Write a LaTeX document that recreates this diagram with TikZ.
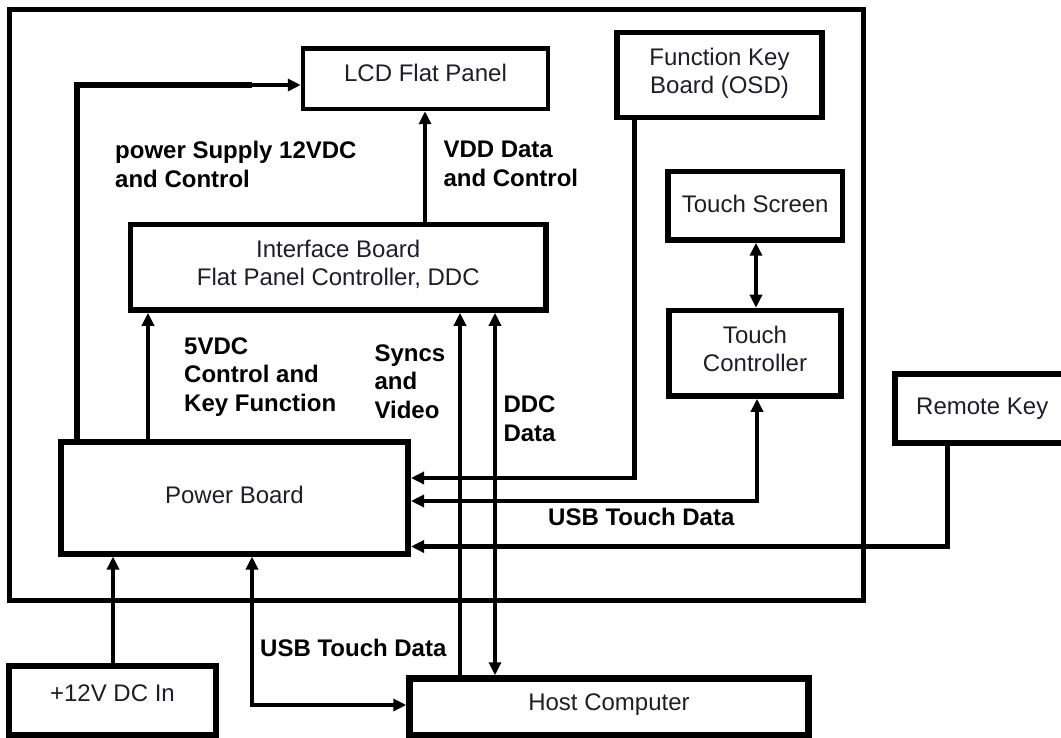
\documentclass[tikz,border=0pt]{standalone}
\usepackage{fontspec}
\setmainfont{Liberation Sans}
\usetikzlibrary{arrows.meta}
\newcommand{\lowr}[1]{\rule[-#1pt]{0pt}{#1pt}}
\definecolor{txt}{RGB}{30,30,40}
\begin{document}
\begin{tikzpicture}[x=1pt,y=-1pt,
  blk/.style={draw, line width=5.5pt, inner sep=0pt, text=txt,
    font=\fontsize{24pt}{28pt}\selectfont, align=center},
  lbl/.style={inner sep=0pt, font=\fontsize{24pt}{28.5pt}\selectfont\bfseries,
    align=left, anchor=north west},
  conn/.style={line width=4.2pt},
  arr/.style={-{Triangle[length=13pt,width=12pt]}},
  arrtwo/.style={{Triangle[length=13pt,width=12pt]}-{Triangle[length=13pt,width=12pt]}}
]
\useasboundingbox (0,0) rectangle (1061,738);
\fill[white] (0,0) rectangle (1061,738);

% outer frame
\draw[line width=5pt] (9.5,9.5) rectangle (863,600);

% boxes
\node[blk, line width=4.5pt, minimum width=245pt, minimum height=60.5pt] (LCD) at (425.5,78.75) {LCD Flat Panel\lowr{12}};
\node[blk, minimum width=205pt, minimum height=85pt] (FK) at (719.5,75) {Function Key\\Board (OSD)\lowr{9}};
\node[blk, minimum width=174.5pt, minimum height=68.5pt] (TS) at (755.25,205.75) {Touch Screen\lowr{4}};
\node[blk, minimum width=415.5pt, minimum height=85.5pt] (IB) at (338.25,267.25) {Interface Board\\Flat Panel Controller, DDC\lowr{8}};
\node[blk, minimum width=172pt, minimum height=85.5pt] (TC) at (755,353.25) {Touch\\Controller\lowr{8}};
\node[blk, line width=6pt, minimum width=175.5pt, minimum height=69pt] (RK) at (982.25,408.5) {Remote Key\lowr{5}};
\node[blk, line width=6pt, minimum width=347pt, minimum height=111.5pt] (PB) at (234.5,497.75) {Power Board\lowr{6}};
\node[blk, line width=6.5pt, minimum width=207pt, minimum height=69.5pt] (DC) at (112.5,700.75) {+12V DC In\lowr{16}};
\node[blk, line width=6.5pt, minimum width=399pt, minimum height=57pt] (HC) at (609,707) {Host Computer\lowr{9}};

% connectors
\coordinate (brk) at (252,85);
\draw[line width=6pt] (76.5,0 |- PB.north) |- (brk);
\draw[conn, arr] (brk) -- (LCD.west |- brk);
\draw[conn, arr] (425,0 |- IB.north) -- (425,0 |- LCD.south);
\draw[conn, arr] (148,0 |- PB.north) -- (148,0 |- IB.south);
\draw[conn, arr] (460,0 |- HC.north) -- (460,0 |- IB.south);
\draw[conn, arrtwo] (495,0 |- HC.north) -- (495,0 |- IB.south);
\draw[conn, arr] (634.5,0 |- FK.south) |- (PB.east |- 0,478);
\draw[conn, arrtwo] (756,0 |- TS.south) -- (756,0 |- TC.north);
\draw[conn, arrtwo] (757,0 |- TC.south) |- (PB.east |- 0,501);
\draw[conn, arr] (947.5,0 |- RK.south) |- (PB.east |- 0,546.5);
\draw[conn, arr] (113,0 |- DC.north) -- (113,0 |- PB.south);
\draw[conn, arrtwo] (252,0 |- PB.south) |- (HC.west |- 0,705);

% labels
\node[lbl] (l1) at (115,141) {power Supply 12VDC\\and Control};
\node[lbl] (l2) at (443.3,141) {VDD Data\\and Control};
\node[lbl] (l3) at (184,337.4) {5VDC\\Control and\\Key Function};
\node[lbl] (l4) at (374.3,344.2) {Syncs\\and\\Video};
\node[lbl] (l5) at (503.3,396) {DDC\\Data};
\node[lbl, anchor=base west] (l6) at (548,525) {USB Touch Data};
\node[lbl, anchor=base west] (l7) at (260,656.7) {USB Touch Data};
\end{tikzpicture}
\end{document}
